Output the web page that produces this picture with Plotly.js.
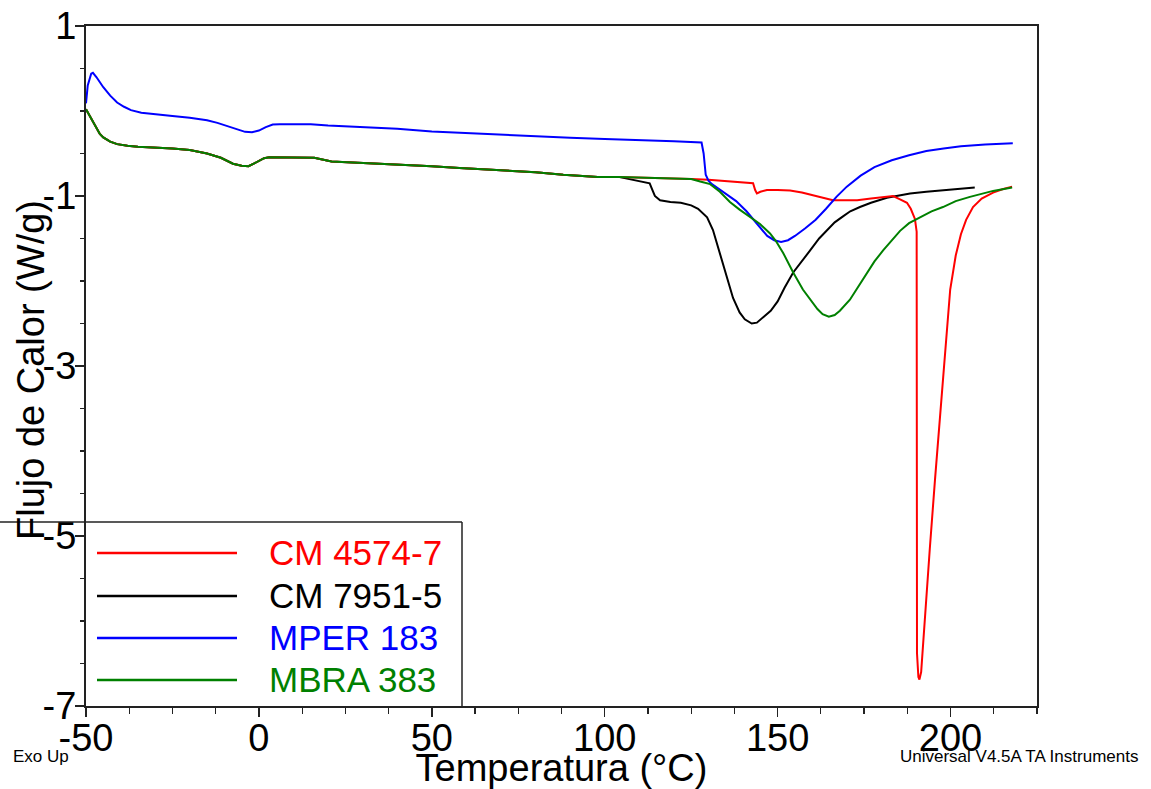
<!DOCTYPE html>
<html>
<head>
<meta charset="utf-8">
<script src="https://cdn.plot.ly/plotly-3.0.1.min.js"></script>
<style>
html,body{margin:0;padding:0;background:#fff;}
#chart{width:1151px;height:789px;}
</style>
</head>
<body>
<div id="chart"></div>
<script>
// ---- Data ----
const seriesNames = ["CM 4574-7", "CM 7951-5", "MPER 183", "MBRA 383"];
const seriesColors = ["#ff0000", "#000000", "#0000ff", "#008000"];

// shared low-temperature baseline (red, black, green overlap)
const baseT = [-50,-49,-48,-47,-46,-45,-43,-41,-38,-35,-30,-25,-20,-15,-11,-7.5,-5,-3,-1.5,0,1.5,3,10,16,21,30,41,50,58,71,80,88,98,104];
const baseQ = [0.02,-0.05,-0.12,-0.2,-0.27,-0.31,-0.36,-0.39,-0.41,-0.42,-0.43,-0.44,-0.46,-0.5,-0.55,-0.62,-0.645,-0.65,-0.62,-0.59,-0.555,-0.545,-0.545,-0.55,-0.595,-0.61,-0.635,-0.65,-0.67,-0.695,-0.72,-0.75,-0.775,-0.775];

// CM 4574-7 (red) after baseline
const redT = [110,120,125,130,135.4,141.2,142.9,143.5,144,145,146.9,150,153.6,157,160,163,166,170,173,177,180.5,183.4,185.4,187.4,188.5,189.7,190.2,190.25,190.3,190.7,191.0,191.5,192,192.7,194,195.5,197,198.4,199.9,201.5,203,204.5,206.5,209,212.3,215,217.8];
const redQ = [-0.78,-0.79,-0.80,-0.81,-0.83,-0.85,-0.85,-0.93,-0.97,-0.95,-0.93,-0.93,-0.935,-0.96,-0.99,-1.02,-1.05,-1.05,-1.05,-1.03,-1.01,-1.0,-1.04,-1.08,-1.15,-1.27,-1.42,-3.5,-6.38,-6.66,-6.69,-6.6,-6.3,-6.0,-5.15,-4.34,-3.56,-2.78,-2.1,-1.7,-1.45,-1.28,-1.13,-1.03,-0.96,-0.92,-0.89];

// CM 7951-5 (black) after baseline
const blackT = [107,110,113,113.8,114.5,116,119,122,125,127,129.6,131.3,133.3,135.4,137.1,139,140.5,142.5,144,146,148,150,152,154.5,157,159.4,162,164.3,166.5,168.9,171,173.8,177,181.6,188.3,193,197.8,202,207];
const blackQ = [-0.80,-0.82,-0.85,-0.93,-1.0,-1.05,-1.07,-1.08,-1.11,-1.15,-1.25,-1.4,-1.67,-1.95,-2.2,-2.37,-2.45,-2.5,-2.49,-2.42,-2.35,-2.24,-2.08,-1.9,-1.76,-1.64,-1.5,-1.4,-1.31,-1.24,-1.18,-1.13,-1.08,-1.02,-0.97,-0.95,-0.93,-0.915,-0.9];

// MPER 183 (blue), full curve
const blueT = [-50,-49.5,-48.5,-48,-47,-45,-43,-41,-39,-37,-34,-30,-25,-20,-15,-12,-9,-6,-4,-2,0,2,4,6,15,20,30,40,50,60,70,80,90,100,110,120,128,128.6,129.2,130,131,133,135,138,141,144,147,149,151,153,155,158,161,164,167,170,174,178,183,188,193,198,203,210,218];
const blueQ = [0.09,0.3,0.44,0.45,0.40,0.28,0.18,0.10,0.05,0.01,-0.02,-0.04,-0.06,-0.08,-0.11,-0.14,-0.18,-0.22,-0.245,-0.25,-0.23,-0.19,-0.16,-0.155,-0.155,-0.17,-0.19,-0.21,-0.24,-0.26,-0.28,-0.30,-0.315,-0.33,-0.34,-0.355,-0.37,-0.5,-0.75,-0.82,-0.86,-0.92,-0.97,-1.06,-1.18,-1.33,-1.47,-1.52,-1.54,-1.52,-1.47,-1.38,-1.28,-1.15,-1.01,-0.89,-0.76,-0.66,-0.58,-0.52,-0.47,-0.44,-0.415,-0.395,-0.38];

// MBRA 383 (green) after baseline
const greenT = [110,115,120,125,127.6,130.5,133.3,136.2,139,141.2,144.9,147.8,149.5,151.6,154.5,157.3,159.4,161.5,163,164.8,166.5,168,170.9,173.5,175.9,178,180.5,183,185.4,188,191.2,194.5,197.8,201.5,205.6,209,212.3,217.8];
const greenQ = [-0.78,-0.79,-0.795,-0.80,-0.83,-0.86,-0.95,-1.07,-1.16,-1.22,-1.33,-1.44,-1.53,-1.67,-1.9,-2.1,-2.22,-2.33,-2.39,-2.42,-2.40,-2.35,-2.22,-2.06,-1.91,-1.77,-1.64,-1.52,-1.41,-1.32,-1.25,-1.18,-1.13,-1.06,-1.01,-0.97,-0.94,-0.9];

// tick labels
const xTickVals = [-50, 0, 50, 100, 150, 200];
const xTickText = ["-50", "0", "50", "100", "150", "200"];
const yTickVals = [1, -1, -3, -5, -7];
const yTickText = ["1", "-1", "-3", "-5", "-7"];

// ---- Build traces ----
const xs = [baseT.concat(redT), baseT.concat(blackT), blueT, baseT.concat(greenT)];
const ys = [baseQ.concat(redQ), baseQ.concat(blackQ), blueQ, baseQ.concat(greenQ)];
const order = [1, 0, 2, 3];
const traces = order.map(i => ({
  x: xs[i], y: ys[i], type: 'scatter', mode: 'lines', name: seriesNames[i],
  line: {color: seriesColors[i], width: 2}, showlegend: false, hoverinfo: 'x+y'
}));

// ---- Layout geometry (pixels) ----
const W = 1151, H = 789;
const L = 86, R = 1037, T = 26, B = 706;
const px = v => (v - L) / (R - L);
const py = v => (B - v) / (B - T);

const FONT = '"Liberation Sans", Arial, sans-serif';
const shapes = [];
const annotations = [];

// custom legend frame (top and right edges)
shapes.push({type:'line', xref:'paper', yref:'paper', x0: px(-3), x1: px(462), y0: py(522), y1: py(522),
  line:{color:'#222', width:1.5}, layer:'above'});
shapes.push({type:'line', xref:'paper', yref:'paper', x0: px(462), x1: px(462), y0: py(522), y1: py(706),
  line:{color:'#222', width:1.5}, layer:'above'});
const legY = [553, 596, 638, 680];
seriesNames.forEach((name, i) => {
  shapes.push({type:'line', xref:'paper', yref:'paper', x0: px(97), x1: px(237), y0: py(legY[i]), y1: py(legY[i]),
    line:{color: seriesColors[i], width: 2.5}});
  annotations.push({xref:'paper', yref:'paper', x: px(267), y: py(legY[i] - 1), xanchor:'left', yanchor:'middle',
    text: name, showarrow:false, font:{family: FONT, size: 35, color: seriesColors[i]}});
});

// y-axis title placed as in the reference
annotations.push({xref:'paper', yref:'paper', x: px(31), y: py(370), xanchor:'center', yanchor:'middle',
  textangle: -90, text:'Flujo de Calor (W/g)', showarrow:false, font:{family: FONT, size: 38, color:'#000'}});

annotations.push({xref:'paper', yref:'paper', x: px(11), y: py(756), xanchor:'left', yanchor:'middle',
  text:'Exo Up', showarrow:false, font:{family: FONT, size: 17, color:'#000'}});
annotations.push({xref:'paper', yref:'paper', x: px(1140), y: py(756), xanchor:'right', yanchor:'middle',
  text:'Universal V4.5A TA Instruments', showarrow:false, font:{family: FONT, size: 17, color:'#000'}});

const layout = {
  width: W, height: H,
  margin: {l: L, r: W - R, t: T, b: H - B, pad: 0},
  paper_bgcolor: '#fff', plot_bgcolor: '#fff',
  font: {family: FONT, color: '#000'},
  showlegend: false,
  xaxis: {
    range: [-50, 225], tickmode: 'array', tickvals: xTickVals, ticktext: xTickText,
    ticks: 'outside', ticklen: 9, tickwidth: 1.5, tickcolor: '#222',
    minor: {tick0: -50, dtick: 12.5, ticks: 'outside', ticklen: 6, tickwidth: 1.2, tickcolor: '#222'},
    showline: true, linecolor: '#222', linewidth: 2, mirror: true,
    showgrid: false, zeroline: false,
    tickfont: {family: FONT, size: 38, color: '#000'},
    ticklabelstandoff: -12,
    title: {text: 'Temperatura (°C)', font: {family: FONT, size: 38, color: '#000'}, standoff: 12},
    automargin: false
  },
  yaxis: {
    range: [-7, 1], tickmode: 'array', tickvals: yTickVals, ticktext: yTickText,
    ticks: 'outside', ticklen: 9, tickwidth: 1.5, tickcolor: '#222',
    minor: {tick0: -7, dtick: 0.5, ticks: 'outside', ticklen: 4, tickwidth: 1.2, tickcolor: '#222'},
    showline: true, linecolor: '#222', linewidth: 2, mirror: true,
    showgrid: false, zeroline: false,
    tickfont: {family: FONT, size: 38, color: '#000'},
    ticklabelstandoff: -9,
    automargin: false
  },
  shapes: shapes,
  annotations: annotations
};

Plotly.newPlot('chart', traces, layout, {displayModeBar: false, staticPlot: true});
</script>
</body>
</html>
